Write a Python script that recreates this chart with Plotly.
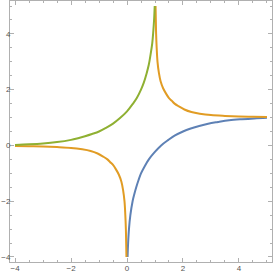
import plotly.graph_objects as go

# Values
green_x = [-4.0, -3.5, -3.0, -2.5, -2.0, -1.75, -1.5, -1.25, -1.0, -0.75, -0.5, -0.25, 0.0, 0.2, 0.35, 0.5, 0.6, 0.7, 0.78, 0.84, 0.9, 0.94, 0.97, 0.99]
green_y = [0.02, 0.04, 0.07, 0.12, 0.2, 0.26, 0.33, 0.41, 0.5, 0.63, 0.78, 0.98, 1.22, 1.48, 1.7, 2.0, 2.25, 2.58, 2.9, 3.25, 3.65, 4.1, 4.55, 5.0]

blue_x = [0.02, 0.04, 0.07, 0.12, 0.2, 0.26, 0.33, 0.41, 0.5, 0.63, 0.78, 0.98, 1.22, 1.48, 1.7, 2.0, 2.25, 2.58, 2.9, 3.25, 3.65, 4.1, 4.55, 5.0]
blue_y = [-4.0, -3.5, -3.0, -2.5, -2.0, -1.75, -1.5, -1.25, -1.0, -0.75, -0.5, -0.25, 0.0, 0.2, 0.35, 0.5, 0.6, 0.7, 0.78, 0.84, 0.9, 0.94, 0.97, 0.99]

orange_left_x = [-4.0, -3.5, -3.0, -2.5, -2.0, -1.6, -1.3, -1.05, -0.85, -0.7, -0.6, -0.5, -0.4, -0.29, -0.2, -0.14, -0.09, -0.06, -0.04, -0.03, -0.02]
orange_left_y = [-0.02, -0.03, -0.04, -0.06, -0.09, -0.14, -0.2, -0.29, -0.4, -0.5, -0.6, -0.7, -0.85, -1.05, -1.3, -1.6, -2.0, -2.5, -3.0, -3.5, -4.0]

orange_right_x = [1.02, 1.03, 1.04, 1.06, 1.09, 1.14, 1.2, 1.29, 1.4, 1.5, 1.6, 1.7, 1.85, 2.05, 2.3, 2.6, 3.0, 3.5, 4.0, 4.5, 5.0]
orange_right_y = [5.0, 4.5, 4.0, 3.5, 3.0, 2.6, 2.3, 2.05, 1.85, 1.7, 1.6, 1.5, 1.4, 1.29, 1.2, 1.14, 1.09, 1.06, 1.04, 1.03, 1.02]

tick_vals = [-4, -2, 0, 2, 4]
tick_text = ["\u22124", "\u22122", "0", "2", "4"]

BLUE = "#5E81B5"
ORANGE = "#E19C24"
GREEN = "#8FB032"

fig = go.Figure()
line_kw = dict(width=2, shape="spline", smoothing=1.0)
fig.add_trace(go.Scatter(x=blue_x, y=blue_y, mode="lines", line=dict(color=BLUE, **line_kw)))
fig.add_trace(go.Scatter(x=orange_left_x, y=orange_left_y, mode="lines", line=dict(color=ORANGE, **line_kw)))
fig.add_trace(go.Scatter(x=orange_right_x, y=orange_right_y, mode="lines", line=dict(color=ORANGE, **line_kw)))
fig.add_trace(go.Scatter(x=green_x, y=green_y, mode="lines", line=dict(color=GREEN, **line_kw)))

axis_common = dict(
    range=[-4.18, 5.18],
    tickvals=tick_vals,
    ticktext=tick_text,
    ticks="inside",
    ticklen=4,
    tickwidth=1,
    tickcolor="#b0b0b0",
    showline=True,
    linecolor="#b0b0b0",
    linewidth=1,
    mirror="ticks",
    showgrid=False,
    zeroline=False,
    automargin=False,
    tickfont=dict(family="Liberation Sans", size=8, color="#555555"),
    minor=dict(dtick=0.5, tick0=0, ticks="inside", ticklen=2, tickcolor="#b0b0b0", showgrid=False),
)

fig.update_layout(
    width=273,
    height=272,
    margin=dict(l=10, r=1, t=1, b=10, pad=0, autoexpand=False),
    paper_bgcolor="white",
    plot_bgcolor="white",
    showlegend=False,
    hovermode=False,
    xaxis=dict(**axis_common, ticklabelstandoff=-2),
    yaxis=dict(**axis_common, ticklabelstandoff=-3),
)

fig.write_html(
    "out.html",
    config={"displayModeBar": False, "staticPlot": True},
    post_script="document.body.style.margin='0';document.body.style.overflow='hidden';",
)
